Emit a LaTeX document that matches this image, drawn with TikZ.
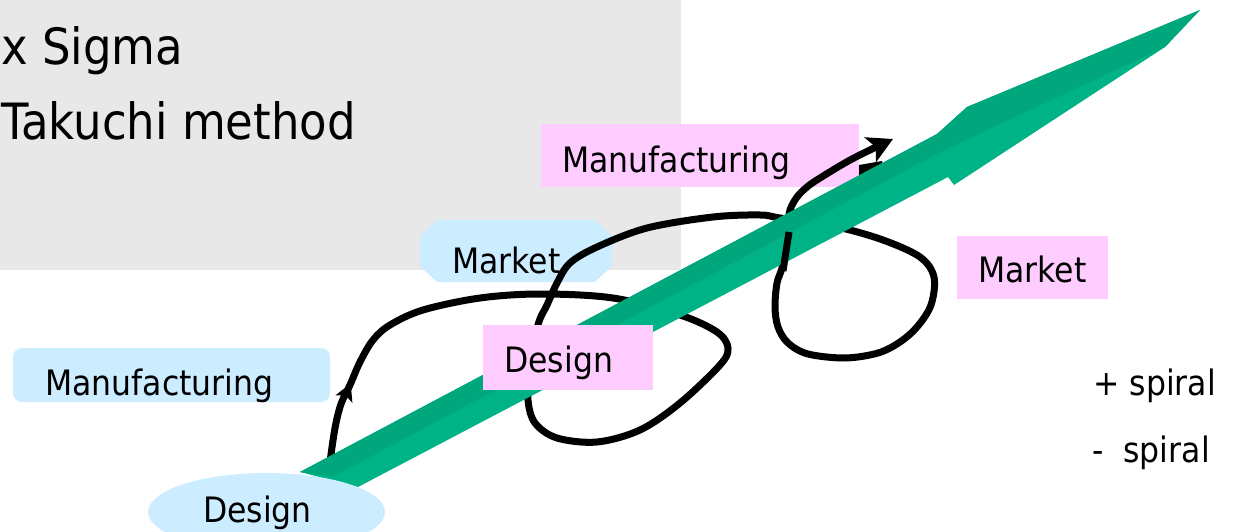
\documentclass[tikz,border=0pt]{standalone}
\usepackage{fontspec}
\setmainfont{DejaVu Sans}[FakeStretch=0.9]
\usetikzlibrary{arrows.meta,shapes.geometric,decorations.markings}
\definecolor{greybg}{HTML}{E8E8E8}
\definecolor{pinkbox}{HTML}{FFCCFF}
\definecolor{bluebox}{HTML}{CCECFF}
\definecolor{greenlight}{HTML}{00B386}
\definecolor{greendark}{HTML}{00A67C}
\begin{document}
\begin{tikzpicture}[x=1pt,y=-1pt,
  lbl/.style={font=\fontsize{35}{40}\selectfont, inner sep=0pt, anchor=base west},
  ttl/.style={font=\fontsize{50}{58}\selectfont, inner sep=0pt, anchor=base west},
  pinkrect/.style={rectangle, fill=pinkbox, draw=none, inner sep=0pt},
  bluerect/.style={rectangle, fill=bluebox, draw=none, inner sep=0pt, rounded corners=9pt},
  loopline/.style={line width=7pt, draw=black, line join=round, line cap=butt}]
\useasboundingbox (0,0) rectangle (1235,532);
% grey panel
\fill[greybg] (0,0) rectangle (681,270);
\node[ttl] (sixsigma) at (1,65) {x Sigma};
\node[ttl] (takuchi) at (1,140) {Takuchi method};
% top pink Manufacturing
\node[pinkrect, minimum width=318pt, minimum height=63pt] (mfgtopbox) at (700,155.5) {};
\node[lbl] (mfgtop) at (562,173) {Manufacturing};
% blue octagon Market
\fill[bluebox] (437,220) -- (595,220) -- (612,236) -- (612,266) -- (595,282) -- (437,282) -- (420,266) -- (420,236) -- cycle;
\node[lbl] (mktoct) at (452,273) {Market};
% spiral line
\draw[loopline, -{Stealth[length=25pt,width=27pt,inset=6pt]},
  postaction={decorate},
  decoration={markings, mark=at position 82pt with {\arrow{Stealth[length=17pt,width=18pt,inset=4pt]}}}]
  plot[smooth, tension=0.55] coordinates {
  (330,462) (335,428) (341,404) (350,385) (360,362) (373,340) (390,325) (423,310)
  (480,298) (540,294) (613,298) (680,315) (717,332) (728,348) (720,365) (680,403)
  (640,430) (597,442) (557,438) (535,423) (528,400) (530,370) (538,325) (547,305)
  (557,283) (570,263) (597,247) (647,228) (713,217) (760,215) (780,218) (837,227)
  (883,240) (920,257) (934,277) (931,305) (917,327) (900,342) (878,353) (845,358)
  (808,354) (788,343) (778,327) (775,307) (777,283) (782,268) (786,245) (788,225)
  (790,210) (797,197) (807,187) (820,178) (852,159) (893,139)};
\fill[black] (859,165) -- (882,161) -- (885,172) -- (859,175) -- cycle;
% green arrow
\fill[greenlight] (300,472) -- (937,134) -- (967,107) -- (1200,10) -- (1165,47) -- (954,185) -- (948,177) -- (358,487) -- cycle;
\fill[greendark] (300,472) -- (937,134) -- (967,107) -- (1200,10) -- (1165,47) -- (940,152) -- (333,477) -- cycle;
% part of the spiral in front of the arrow
\draw[loopline] (783,271) -- (789,232);
% pink Design
\node[pinkrect, minimum width=170pt, minimum height=65pt] (desbox) at (568,357.5) {};
\node[lbl] (des) at (504,372) {Design};
% blue ellipse Design
\node[ellipse, fill=bluebox, inner sep=0pt, minimum width=237pt, minimum height=78pt] (desell) at (266.5,512) {};
\node[lbl] (desbottom) at (203,522) {Design};
% blue Manufacturing
\node[bluerect, minimum width=317pt, minimum height=54pt] (mfgbluebox) at (171.5,375) {};
\node[lbl] (mfgblue) at (45,395) {Manufacturing};
% pink Market
\node[pinkrect, minimum width=151pt, minimum height=63pt] (mktbox) at (1032.5,267.5) {};
\node[lbl] (mkt) at (978,282) {Market};
% legend
\node[lbl] (plusspiral) at (1093,395) {+ spiral};
\node[lbl] (minusspiral) at (1092,462) {-~~spiral};
\end{tikzpicture}
\end{document}
